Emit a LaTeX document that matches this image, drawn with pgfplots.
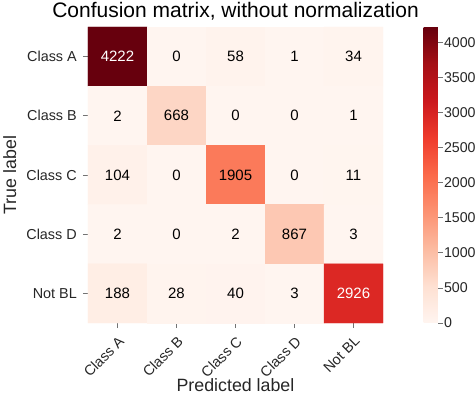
\documentclass[border=0pt]{standalone}
\usepackage{fontspec}
\setmainfont{Liberation Sans}
\usepackage{pgfplots}
\pgfplotsset{compat=1.18}

% matplotlib "Reds"
\pgfplotsset{colormap={reds}{rgb255=(255,245,240) rgb255=(254,224,210)
  rgb255=(252,187,161) rgb255=(252,146,114) rgb255=(251,106,74)
  rgb255=(239,59,44) rgb255=(203,24,29) rgb255=(165,15,21) rgb255=(103,0,13)}}

\newcommand{\tickfont}{\fontsize{14.4}{16}\selectfont}

\begin{document}
\begin{tikzpicture}
\begin{axis}[
  name=cm,
  scale only axis,
  width=295pt, height=296pt,
  xmin=-0.5, xmax=4.5, ymin=-0.5, ymax=4.5,
  y dir=reverse,
  enlargelimits=false,
  colormap name=reds,
  point meta min=0, point meta max=4222,
  xtick={0,1,2,3,4}, ytick={0,1,2,3,4},
  xticklabels={Class A,Class B,Class C,Class D,Not BL},
  yticklabels={Class A,Class B,Class C,Class D,Not BL},
  xtick pos=bottom, ytick pos=left,
  tick align=outside,
  major tick length=5pt,
  tick style={draw=black!55, line width=0.8pt},
  axis line style={draw=none},
  tick label style={font=\tickfont, text=black!85},
  xticklabel style={yshift=-7pt, rotate=45, anchor=north east, inner sep=0pt},
  yticklabel style={inner sep=0pt, xshift=-6pt},
  xlabel={Predicted label},
  ylabel={True label},
  label style={font=\fontsize{17.8}{20}\selectfont, text=black!85},
  xlabel style={at={(axis description cs:0.5,0)}, anchor=base, yshift=-68pt},
  ylabel style={at={(axis description cs:-0.244,0.5)}, anchor=base},
  title={Confusion matrix, without normalization},
  title style={font=\fontsize{21}{24}\selectfont,
    at={(axis description cs:0.5,1)}, anchor=base, yshift=3pt},
  colorbar,
  colorbar style={
    at={(parent axis.north east)}, anchor=north west, xshift=32pt,
    width=14.3pt,
    ytick={0,500,...,4000},
    ytick pos=right,
    tick align=outside,
    major tick length=5pt,
    ytick style={draw=black!55, line width=0.8pt},
    major tick style={draw=black!55, line width=0.8pt},
    axis line style={draw=none},
    yticklabel style={font=\fontsize{14.2}{16}\selectfont, text=black!85,
      inner sep=0pt, xshift=1pt,
      /pgf/number format/assume math mode=true,
      /pgf/number format/set thousands separator={}},
  },
]
\addplot[matrix plot*, mesh/cols=5, point meta=explicit] table[meta=c] {
x y c
0 0 4222
1 0 0
2 0 58
3 0 1
4 0 34
0 1 2
1 1 668
2 1 0
3 1 0
4 1 1
0 2 104
1 2 0
2 2 1905
3 2 0
4 2 11
0 3 2
1 3 0
2 3 2
3 3 867
4 3 3
0 4 188
1 4 28
2 4 40
3 4 3
4 4 2926
};
% cell values, dark text
\addplot[only marks, mark=none, point meta=explicit symbolic,
  nodes near coords, nodes near coords align=center,
  every node near coord/.append style={font=\fontsize{15}{17}\selectfont,
    text=black, anchor=center}]
  table[meta=t] {
x y t
1 0 0
2 0 58
3 0 1
4 0 34
0 1 2
1 1 668
2 1 0
3 1 0
4 1 1
0 2 104
1 2 0
2 2 1905
3 2 0
4 2 11
0 3 2
1 3 0
2 3 2
3 3 867
4 3 3
0 4 188
1 4 28
2 4 40
3 4 3
};
% cell values, light text
\addplot[only marks, mark=none, point meta=explicit symbolic,
  nodes near coords, nodes near coords align=center,
  every node near coord/.append style={font=\fontsize{15}{17}\selectfont,
    text=white, anchor=center}]
  table[meta=t] {
x y t
0 0 4222
4 4 2926
};
\end{axis}
\pgfresetboundingbox
\useasboundingbox ([xshift=-88pt,yshift=-80pt]cm.south west)
  rectangle ([xshift=92pt,yshift=27pt]cm.north east);
\end{tikzpicture}
\end{document}
